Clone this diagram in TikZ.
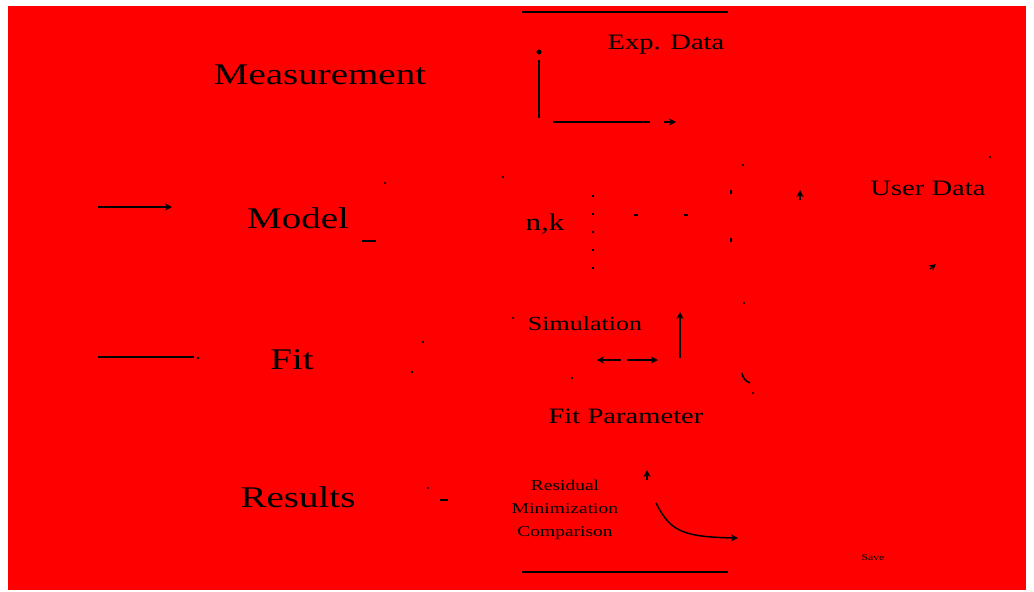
\documentclass[tikz,border=0pt]{standalone}
\usepackage{fontspec}
\setmainfont{Liberation Serif}
\usetikzlibrary{arrows.meta}
\definecolor{bgred}{RGB}{255,0,0}
\tikzset{
  lbl/.style={text=black, inner sep=0pt, font=\fontsize{#1}{#1}\selectfont},
  lbl/.default=30,
  ln/.style={draw=black, line width=1.6pt},
  dln/.style={draw=black, line width=1.4pt, dash pattern=on 2pt off 16pt},
  tip/.style={draw=black, line width=1.6pt, -{Stealth[length=7pt,width=7pt]}},
}
\newcommand{\wide}[1]{\scalebox{1.3}[1]{#1}}
\begin{document}
\begin{tikzpicture}[x=1pt,y=-1pt]
\useasboundingbox (0,0) rectangle (1034,592);
\fill[white] (0,0) rectangle (1034,592);
\fill[bgred] (8,6) rectangle (1026,590);
% top / bottom bars
\coordinate (tl) at (522,12); \coordinate (tr) at (728,12);
\coordinate (bl) at (522,572); \coordinate (br) at (728,572);
\draw[ln, line width=2pt] (tl) -- (tr);
\draw[ln, line width=2pt] (bl) -- (br);
% texts
\node[lbl=30] (meas) at (320,75) {\wide{Measurement}};
\node[lbl=22] (exp) at (666,45) {\wide{Exp. Data}};
\node[lbl=30] (model) at (298,218) {\wide{Model}};
\node[lbl=24] (nk) at (545,224) {\wide{n,k}};
\node[lbl=22] (user) at (928,188) {\wide{User Data}};
\node[lbl=30] (fit) at (292,360) {\wide{Fit}};
\node[lbl=20] (sim) at (585,324) {\wide{Simulation}};
\node[lbl=22] (par) at (626,416) {\wide{Fit Parameter}};
\node[lbl=30] (res) at (298,497) {\wide{Results}};
\node[lbl=15, align=center] (cmp) at (565,510) {\wide{Residual}\\[8pt]\wide{Minimization}\\[8pt]\wide{Comparison}};
\node[lbl=9] (save) at (873,558) {\wide{Save}};
% exp data connector
\coordinate (e0) at (539,52); \coordinate (e1) at (539,60); \coordinate (e2) at (539,118);
\coordinate (e3) at (553,122); \coordinate (e4) at (650,122);
\coordinate (e5) at (664,122); \coordinate (e6) at (676,122);
\fill (e0) circle (2.6pt);
\draw[ln] (e1) -- (e2);
\draw[ln] (e3) -- (e4);
\draw[tip] (e5) -- (e6);
% model input
\coordinate (m0) at (98,207); \coordinate (m1) at (172,207);
\draw[tip] (m0) -- (m1);
\coordinate (m2) at (362,241); \coordinate (m3) at (376,241);
\draw[ln] (m2) -- (m3);
\fill (385,183) circle (1.2pt);
% fit input
\coordinate (f0) at (98,357); \coordinate (f1) at (194,357);
\draw[ln] (f0) -- (f1);
\fill (198,358) circle (1.3pt);
\fill (412,372) circle (1.3pt);
\fill (423,342) circle (1.2pt);
% dashed remnants of box
\coordinate (d0) at (593,195); \coordinate (d1) at (593,276);
\draw[dln] (d0) -- (d1);
\coordinate (d2) at (634,215); \coordinate (d3) at (690,215);
\draw[black, line width=1.4pt, dash pattern=on 4pt off 46pt] (d2) -- (d3);
\coordinate (d4) at (731,190); \coordinate (d5) at (731,262);
\draw[black, line width=1.6pt, dash pattern=on 4pt off 44pt] (d4) -- (d5);
\fill (743,165) circle (1.2pt);
\fill (744,303) circle (1.2pt);
\fill (503,177) circle (1.2pt);
% user data marks
\coordinate (u0) at (800,200); \coordinate (u1) at (800,190);
\draw[tip] (u0) -- (u1);
\coordinate (u2) at (930,269); \coordinate (u3) at (936,264);
\draw[tip, line width=1.2pt] (u2) -- (u3);
\fill (990,157) circle (1.2pt);
% simulation arrows
\coordinate (s0) at (597,360); \coordinate (s1) at (658,360);
\draw[draw=black, line width=1.6pt, {Stealth[length=7pt,width=7pt]}-{Stealth[length=7pt,width=7pt]}, dash pattern=on 20pt off 6pt on 30pt] (s0) -- (s1);
\coordinate (v0) at (680,358); \coordinate (v1) at (680,312);
\draw[tip] (v0) -- (v1);
\coordinate (h0) at (742,373); \coordinate (h1) at (750,383);
\draw[ln] (h0) to[bend right=30] (h1);
\fill (753,393) circle (1.2pt);
\fill (513,318) circle (1.2pt);
\fill (572,378) circle (1.2pt);
% bottom box arrows
\coordinate (c0) at (647,480); \coordinate (c1) at (647,470);
\draw[tip] (c0) -- (c1);
\coordinate (c2) at (656,503); \coordinate (c3) at (738,538);
\draw[tip, line width=1.5pt] (c2) .. controls (670,530) and (680,537) .. (c3);
\coordinate (r0) at (428,488); \coordinate (r1) at (448,500);
\fill (r0) circle (1.2pt);
\draw[ln, line width=1.2pt] (440,500) -- (r1);
\end{tikzpicture}
\end{document}
